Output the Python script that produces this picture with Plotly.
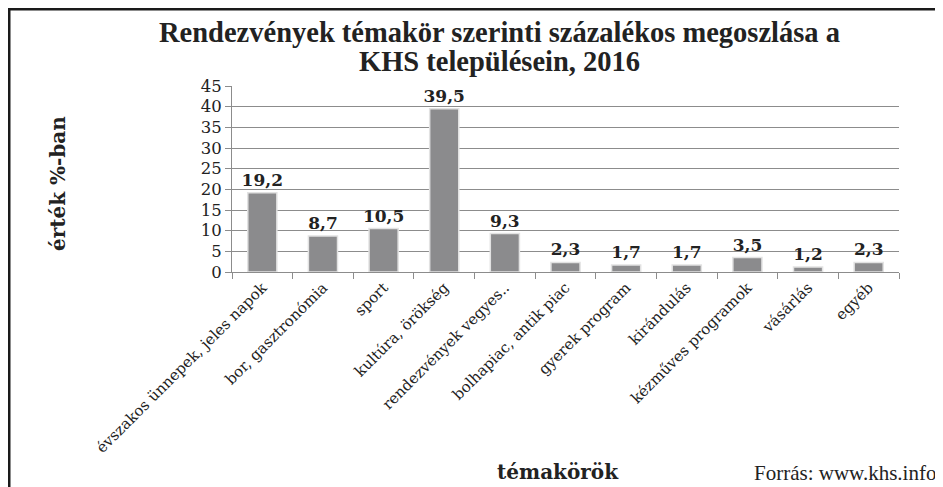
import plotly.graph_objects as go

categories = ["évszakos ünnepek, jeles napok", "bor, gasztronómia", "sport", "kultúra, örökség",
              "rendezvények vegyes..", "bolhapiac, antik piac", "gyerek program", "kirándulás",
              "kézműves programok", "vásárlás", "egyéb"]
values = [19.2, 8.7, 10.5, 39.5, 9.3, 2.3, 1.7, 1.7, 3.5, 1.2, 2.3]
y_ticks = [0, 5, 10, 15, 20, 25, 30, 35, 40, 45]
title_lines = ["Rendezvények témakör szerinti százalékos megoszlása a", "KHS településein, 2016"]

SERIF = "DejaVu Serif"
NARROW = "Liberation Serif"
OFF = 8  # page body margin
W, H = 943 - OFF, 487 - OFF
L, R, T, B = 232 - OFF, 899 - OFF, 86 - OFF, 272 - OFF
PW, PH = R - L, B - T


def px(x):  # page pixel -> paper x
    return (x - OFF - L) / PW


def py(y):  # page pixel -> paper y
    return (B - (y - OFF)) / PH


fig = go.Figure()
fig.add_trace(go.Bar(
    x=categories, y=values,
    marker=dict(color="#8b8b8d", line=dict(color="#e2e2e2", width=1.5)),
    width=0.48,
    texttemplate="<b>%{y:.1f}</b>", textposition="outside", constraintext="none",
    textfont=dict(family=SERIF, size=17, color="#222"),
    cliponaxis=False,
))

fig.update_layout(
    width=W, height=H,
    margin=dict(l=L, r=W - R, t=T, b=H - B),
    paper_bgcolor="white", plot_bgcolor="white",
    separators=", ",
    showlegend=False,
    font=dict(family=SERIF, color="#222"),
)
fig.update_yaxes(range=[0, 45], tickvals=y_ticks, showgrid=True, gridcolor="#8c8c8c", gridwidth=1,
                 showline=True, linecolor="#8c8c8c", ticks="outside", ticklen=6, tickcolor="#8c8c8c",
                 tickfont=dict(family=SERIF, size=16.5, color="#222"), zeroline=False, automargin=False)
fig.update_xaxes(showline=True, linecolor="#8c8c8c", ticks="outside", ticklen=6, tickcolor="#8c8c8c",
                 tickson="boundaries", tickangle=-45, automargin=False,
                 tickfont=dict(family=SERIF, size=15, color="#222"))

for text, yc in zip(title_lines, [32, 62]):
    fig.add_annotation(text="<b>" + text + "</b>", xref="paper", yref="paper", x=px(499), y=py(yc),
                       showarrow=False, xanchor="center", yanchor="middle",
                       font=dict(family=NARROW, size=28.5, color="#222"))

fig.add_annotation(text="<b>érték %-ban</b>", xref="paper", yref="paper", x=px(58), y=py(184),
                   textangle=-90, showarrow=False, xanchor="center", yanchor="middle",
                   font=dict(family=SERIF, size=20, color="#222"))
fig.add_annotation(text="<b>témakörök</b>", xref="paper", yref="paper", x=px(558), y=py(472),
                   showarrow=False, xanchor="center", yanchor="middle",
                   font=dict(family=SERIF, size=20, color="#222"))
fig.add_annotation(text="Forrás: www.khs.info", xref="paper", yref="paper", x=px(938), y=py(473),
                   showarrow=False, xanchor="right", yanchor="middle",
                   font=dict(family=NARROW, size=21, color="#222"))

fig.add_shape(type="line", xref="paper", yref="paper", x0=px(9), x1=px(9),
              y0=py(7), y1=py(500), line=dict(color="#1a1a1a", width=3))
fig.add_shape(type="line", xref="paper", yref="paper", x0=px(7.5), x1=px(960),
              y0=py(9), y1=py(9), line=dict(color="#1a1a1a", width=3))

fig.write_html("out.html")
